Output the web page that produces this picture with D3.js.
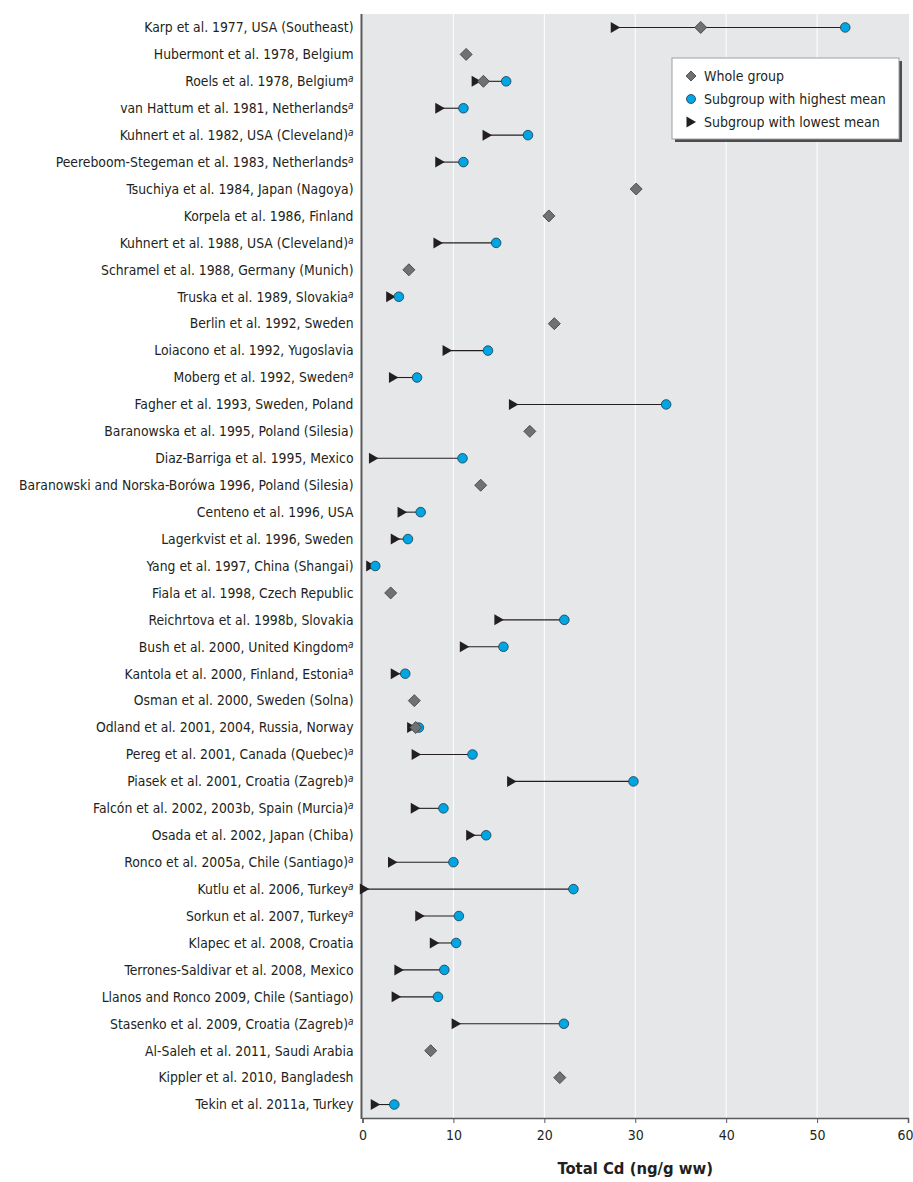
<!DOCTYPE html>
<html><head><meta charset="utf-8">
<script src="https://cdn.jsdelivr.net/npm/d3@7"></script>
<style>
body{margin:0;background:#fff;}
svg{display:block;}
text{font-family:"Liberation Sans Narrow","Arial Narrow","DejaVu Sans Condensed",sans-serif;fill:#231f20;}
</style></head>
<body>
<svg id="chart" width="913" height="1182"></svg>
<script>
const studies = [
"Karp et al. 1977, USA (Southeast)",
"Hubermont et al. 1978, Belgium",
"Roels et al. 1978, Belgium",
"van Hattum et al. 1981, Netherlands",
"Kuhnert et al. 1982, USA (Cleveland)",
"Peereboom-Stegeman et al. 1983, Netherlands",
"Tsuchiya et al. 1984, Japan (Nagoya)",
"Korpela et al. 1986, Finland",
"Kuhnert et al. 1988, USA (Cleveland)",
"Schramel et al. 1988, Germany (Munich)",
"Truska et al. 1989, Slovakia",
"Berlin et al. 1992, Sweden",
"Loiacono et al. 1992, Yugoslavia",
"Moberg et al. 1992, Sweden",
"Fagher et al. 1993, Sweden, Poland",
"Baranowska et al. 1995, Poland (Silesia)",
"Diaz-Barriga et al. 1995, Mexico",
"Baranowski and Norska-Borówa 1996, Poland (Silesia)",
"Centeno et al. 1996, USA",
"Lagerkvist et al. 1996, Sweden",
"Yang et al. 1997, China (Shangai)",
"Fiala et al. 1998, Czech Republic",
"Reichrtova et al. 1998b, Slovakia",
"Bush et al. 2000, United Kingdom",
"Kantola et al. 2000, Finland, Estonia",
"Osman et al. 2000, Sweden (Solna)",
"Odland et al. 2001, 2004, Russia, Norway",
"Pereg et al. 2001, Canada (Quebec)",
"Piasek et al. 2001, Croatia (Zagreb)",
"Falcón et al. 2002, 2003b, Spain (Murcia)",
"Osada et al. 2002, Japan (Chiba)",
"Ronco et al. 2005a, Chile (Santiago)",
"Kutlu et al. 2006, Turkey",
"Sorkun et al. 2007, Turkey",
"Klapec et al. 2008, Croatia",
"Terrones-Saldivar et al. 2008, Mexico",
"Llanos and Ronco 2009, Chile (Santiago)",
"Stasenko et al. 2009, Croatia (Zagreb)",
"Al-Saleh et al. 2011, Saudi Arabia",
"Kippler et al. 2010, Bangladesh",
"Tekin et al. 2011a, Turkey"
];
// footnote marker: "i" = italic superscript a, "p" = plain superscript a
const notes = ["","","i","i","i","i","","","i","","i","","","i","","","","","","","","","","i","p","","","i","i","i","","i","i","i","","","","i","","",""];

const wholeGroup = [37.2,11.4,13.3,null,null,null,30.1,20.5,null,5.1,null,21.1,null,null,null,18.4,null,13.0,null,null,null,3.1,null,null,null,5.7,5.85,null,null,null,null,null,null,null,null,null,null,null,7.5,21.7,null];
const highMean = [53.1,null,15.8,11.1,18.2,11.1,null,null,14.7,null,4.0,null,13.8,6.0,33.4,null,11.0,null,6.4,5.0,1.4,null,22.2,15.5,4.7,null,6.2,12.1,29.8,8.9,13.6,10.0,23.2,10.6,10.3,9.0,8.3,22.15,null,null,3.5];
const lowMean = [27.8,null,12.5,8.5,13.7,8.5,null,null,8.3,null,3.1,null,9.3,3.4,16.6,null,1.2,null,4.35,3.6,0.9,null,15.0,11.2,3.6,null,5.4,5.9,16.4,5.8,11.9,3.3,0.2,6.3,7.9,4.0,3.7,10.3,null,null,1.4];

const xTicks = [0,10,20,30,40,50,60];
const xTitle = "Total Cd (ng/g ww)";
const legendLabels = ["Whole group","Subgroup with highest mean","Subgroup with lowest mean"];

const svg = d3.select("#chart");
const L = 362.5, R = 908, T = 14, B = 1118;
const x = d3.scaleLinear().domain([0,60]).range([L,R]);
const y = d3.scalePoint().domain(studies).range([T,B]).padding(0.5);

// background
svg.append("rect").attr("x",L).attr("y",T).attr("width",R-L+1).attr("height",B-T).attr("fill","#e6e7e8");
// gridlines
svg.selectAll("line.grid").data(xTicks.filter(d=>d>0&&d<60)).join("line")
  .attr("x1",d=>x(d)).attr("x2",d=>x(d)).attr("y1",T).attr("y2",B)
  .attr("stroke","#fff").attr("stroke-width",1);

// x axis
const xa = svg.append("g").attr("transform",`translate(0,${B})`)
  .call(d3.axisBottom(x).tickValues(xTicks).tickSize(5).tickPadding(7));
xa.select(".domain").attr("stroke","#58595b").attr("stroke-width",1.5);
xa.selectAll(".tick line").attr("stroke","#58595b");
xa.selectAll(".tick text").attr("font-size",14).attr("fill","#231f20")
  .attr("font-family",'"Liberation Sans Narrow","Arial Narrow","DejaVu Sans Condensed",sans-serif')
  .attr("dx",d=>d===60?-3:0);

// left axis line
svg.append("line").attr("x1",L-1).attr("x2",L-1).attr("y1",T).attr("y2",B+1)
  .attr("stroke","#58595b").attr("stroke-width",2);

// labels
const lab = svg.append("g").selectAll("text").data(studies).join("text")
  .attr("x",L-9).attr("y",d=>y(d)).attr("dy","0.35em")
  .attr("text-anchor","end").attr("font-size",13.8);
lab.each(function(d,i){
  const t = d3.select(this);
  t.append("tspan").text(d);
  if(notes[i]){
    t.append("tspan").text("a").attr("font-size",10).attr("dy","-0.4em")
     .attr("font-style",notes[i]==="i"?"italic":"normal");
  }
});

// x title
svg.append("text").attr("x",x(30)).attr("y",1174).attr("text-anchor","middle")
  .attr("font-size",16.5).attr("font-weight","bold").text(xTitle);

const idx = d3.range(studies.length);
const g = svg.append("g");
// connecting lines
g.selectAll("line.conn").data(idx.filter(i=>lowMean[i]!=null&&highMean[i]!=null)).join("line")
  .attr("x1",i=>x(lowMean[i])).attr("x2",i=>x(highMean[i]))
  .attr("y1",i=>y(studies[i])).attr("y2",i=>y(studies[i]))
  .attr("stroke","#231f20").attr("stroke-width",1.1);

const tri = "M-4.5,-5.5L5,0L-4.5,5.5Z";
const dia = "M0,-6L6,0L0,6L-6,0Z";
// lowest (triangles)
g.selectAll("path.low").data(idx.filter(i=>lowMean[i]!=null)).join("path")
  .attr("d",tri).attr("transform",i=>`translate(${x(lowMean[i])},${y(studies[i])})`)
  .attr("fill","#231f20");
// highest (circles)
g.selectAll("circle.high").data(idx.filter(i=>highMean[i]!=null)).join("circle")
  .attr("cx",i=>x(highMean[i])).attr("cy",i=>y(studies[i])).attr("r",4.8)
  .attr("fill","#00a6e3").attr("stroke","#1d3a4a").attr("stroke-width",0.8);
// whole group (diamonds)
g.selectAll("path.whole").data(idx.filter(i=>wholeGroup[i]!=null)).join("path")
  .attr("d",dia).attr("transform",i=>`translate(${x(wholeGroup[i])},${y(studies[i])})`)
  .attr("fill","#707174").attr("stroke","#3a3a3c").attr("stroke-width",0.8);

// legend
const lg = svg.append("g").attr("transform","translate(672,58)");
lg.append("rect").attr("x",3).attr("y",3).attr("width",227).attr("height",81).attr("fill","#4d4d4f");
lg.append("rect").attr("x",0).attr("y",0).attr("width",227).attr("height",81)
  .attr("fill","#fff").attr("stroke","#9d9fa2").attr("stroke-width",1);
const ly = [18,41,64];
lg.append("path").attr("d","M0,-5L5,0L0,5L-5,0Z").attr("transform",`translate(19,${ly[0]})`)
  .attr("fill","#707174").attr("stroke","#3a3a3c").attr("stroke-width",0.8);
lg.append("circle").attr("cx",19).attr("cy",ly[1]).attr("r",4.5)
  .attr("fill","#00a6e3").attr("stroke","#1d3a4a").attr("stroke-width",0.8);
lg.append("path").attr("d","M-4.5,-5.5L5,0L-4.5,5.5Z").attr("transform",`translate(19,${ly[2]})`)
  .attr("fill","#231f20");
lg.selectAll("text").data(legendLabels).join("text")
  .attr("x",32).attr("y",(d,i)=>ly[i]).attr("dy","0.35em").attr("font-size",14).text(d=>d);
</script>
</body></html>
